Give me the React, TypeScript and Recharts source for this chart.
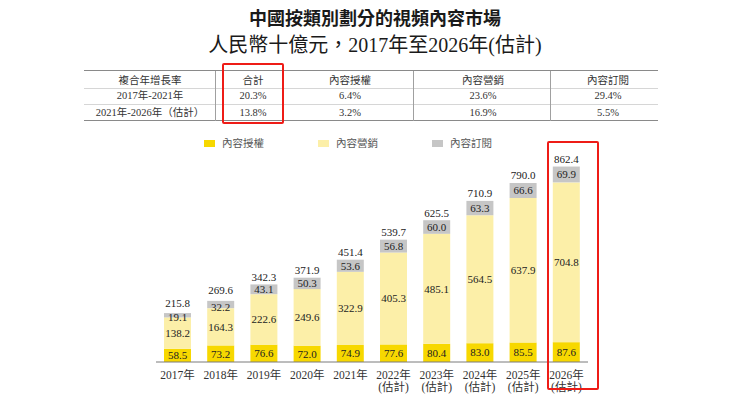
import { BarChart, Bar, XAxis, YAxis, LabelList } from "recharts";

const years = ["2017年", "2018年", "2019年", "2020年", "2021年", "2022年", "2023年", "2024年", "2025年", "2026年"];
const estimated = [false, false, false, false, false, true, true, true, true, true];
const licensing = [58.5, 73.2, 76.6, 72.0, 74.9, 77.6, 80.4, 83.0, 85.5, 87.6];
const marketing = [138.2, 164.3, 222.6, 249.6, 322.9, 405.3, 485.1, 564.5, 637.9, 704.8];
const subscription = [19.1, 32.2, 43.1, 50.3, 53.6, 56.8, 60.0, 63.3, 66.6, 69.9];
const totals = [215.8, 269.6, 342.3, 371.9, 451.4, 539.7, 625.5, 710.9, 790.0, 862.4];

const seriesNames = ["內容授權", "內容營銷", "內容訂閱"];
const COLORS = ["#f7d800", "#fcefa8", "#c6c6c6"];

const tableHeader = ["複合年增長率", "合計", "內容授權", "內容營銷", "內容訂閱"];
const tableRows = [
  ["2017年-2021年", "20.3%", "6.4%", "23.6%", "29.4%"],
  ["2021年-2026年（估計）", "13.8%", "3.2%", "16.9%", "5.5%"],
];

const SERIF = '"Liberation Serif", "Noto Sans CJK TC", serif';
const SANS = '"Noto Sans CJK TC", "Noto Sans", sans-serif';

const chartData = years.map((year, i) => ({
  year,
  est: estimated[i],
  licensing: licensing[i],
  marketing: marketing[i],
  subscription: subscription[i],
  total: totals[i],
}));

const colCenters = [150, 253, 350, 483, 608];
const rowCenters = [79.5, 96, 112.5];

function YearTick(props: any) {
  const { x, y, payload } = props;
  const d = chartData[payload.index];
  return (
    <g>
      <text x={x} y={y + 9} textAnchor="middle" fontSize={11.5} fill="#333" fontFamily={SERIF}>
        {payload.value}
      </text>
      {d && d.est && (
        <text x={x} y={y + 21} textAnchor="middle" fontSize={11.5} fill="#333" fontFamily={SERIF}>
          (估計)
        </text>
      )}
    </g>
  );
}

const labelStyle = { fontSize: 11, fill: "#222", fontFamily: SERIF };

// label for the thin grey segment sits a bit low, and the total above it a bit higher
function SubLabel(props: any) {
  const { x, y, width, height, value } = props;
  const small = Math.abs(height) < 8;
  return (
    <text x={x + width / 2} y={y + height / 2 + 4 + (small ? 2 : 0)} textAnchor="middle" {...labelStyle}>
      {Number(value).toFixed(1)}
    </text>
  );
}

function TotalLabel(props: any) {
  const { x, y, width, height, value } = props;
  const small = Math.abs(height) < 8;
  return (
    <text x={x + width / 2} y={y - 3.5 - (small ? 3 : 0)} textAnchor="middle" {...labelStyle}>
      {Number(value).toFixed(1)}
    </text>
  );
}

export default function App() {
  return (
    <div style={{ position: "absolute", left: 0, top: 0, width: 750, height: 397, background: "#fff" }}>
      <div
        style={{
          position: "absolute", top: 5, left: 0, width: 750, textAlign: "center",
          fontFamily: SANS, fontWeight: 700, fontSize: 18, color: "#1a1a1a", lineHeight: "24px",
        }}
      >
        中國按類別劃分的視頻內容市場
      </div>
      <div
        style={{
          position: "absolute", top: 32, left: 0, width: 750, textAlign: "center",
          fontFamily: SERIF, fontSize: 20, color: "#1a1a1a", lineHeight: "26px",
        }}
      >
        人民幣十億元，2017年至2026年(估計)
      </div>

      {/* table lines */}
      <div style={{ position: "absolute", left: 84, top: 70, width: 574, height: 0, borderTop: "1.5px solid #8a8a8a" }} />
      <div style={{ position: "absolute", left: 84, top: 88, width: 574, height: 0, borderTop: "1px solid #d6d6d6" }} />
      <div style={{ position: "absolute", left: 84, top: 104, width: 574, height: 0, borderTop: "1px solid #d6d6d6" }} />
      <div style={{ position: "absolute", left: 84, top: 120, width: 574, height: 0, borderTop: "1.5px solid #8a8a8a" }} />
      {[215, 413, 550].map((lx) => (
        <div key={lx} style={{ position: "absolute", left: lx, top: 71, width: 0, height: 50, borderLeft: "1px solid #a0a0a0" }} />
      ))}
      {tableHeader.map((h, c) => (
        <div
          key={"h" + c}
          style={{
            position: "absolute", left: colCenters[c] - 60, width: 120, top: rowCenters[0] - 8, lineHeight: "16px",
            textAlign: "center", fontFamily: SANS, fontSize: 10.5, color: "#333",
          }}
        >
          {h}
        </div>
      ))}
      {tableRows.map((row, r) =>
        row.map((cell, c) => (
          <div
            key={r + "-" + c}
            style={{
              position: "absolute", left: colCenters[c] - 60, width: 120, top: rowCenters[r + 1] - 8, lineHeight: "16px",
              textAlign: "center", fontFamily: SERIF, fontSize: 10.5, color: "#333",
            }}
          >
            {cell}
          </div>
        ))
      )}

      {/* legend */}
      {seriesNames.map((name, i) => {
        const lefts = [204, 318, 432];
        return (
          <div key={name} style={{ position: "absolute", left: lefts[i], top: 136, height: 14, display: "flex", alignItems: "center" }}>
            <div style={{ width: 11, height: 7, background: COLORS[i], marginRight: 7 }} />
            <span style={{ fontFamily: SANS, fontSize: 10.5, color: "#555", lineHeight: "14px" }}>{name}</span>
          </div>
        );
      })}

      <div style={{ position: "absolute", left: 0, top: 0 }}>
        <BarChart
          width={750}
          height={397}
          data={chartData}
          margin={{ top: 158, right: 162, bottom: 0, left: 156 }}
          barSize={27}
        >
          <XAxis
            dataKey="year"
            height={35}
            axisLine={{ stroke: "#7a7a7a", strokeWidth: 1 }}
            tickLine={false}
            interval={0}
            tick={<YearTick />}
          />
          <YAxis hide domain={[0, 900]} />
          <Bar dataKey="licensing" stackId="a" fill={COLORS[0]} isAnimationActive={false}>
            <LabelList dataKey="licensing" position="center" style={labelStyle} formatter={(v: any) => Number(v).toFixed(1)} />
          </Bar>
          <Bar dataKey="marketing" stackId="a" fill={COLORS[1]} isAnimationActive={false}>
            <LabelList dataKey="marketing" position="center" style={labelStyle} formatter={(v: any) => Number(v).toFixed(1)} />
          </Bar>
          <Bar dataKey="subscription" stackId="a" fill={COLORS[2]} isAnimationActive={false}>
            <LabelList dataKey="subscription" content={<SubLabel />} />
            <LabelList dataKey="total" content={<TotalLabel />} />
          </Bar>
        </BarChart>
      </div>

      {/* highlight boxes */}
      <div style={{ position: "absolute", left: 222, top: 63, width: 58, height: 57, border: "2.5px solid #ee1c17", borderRadius: 2 }} />
      <div style={{ position: "absolute", left: 547, top: 141, width: 48, height: 245, border: "2.5px solid #ee1c17", borderRadius: 2 }} />
    </div>
  );
}
